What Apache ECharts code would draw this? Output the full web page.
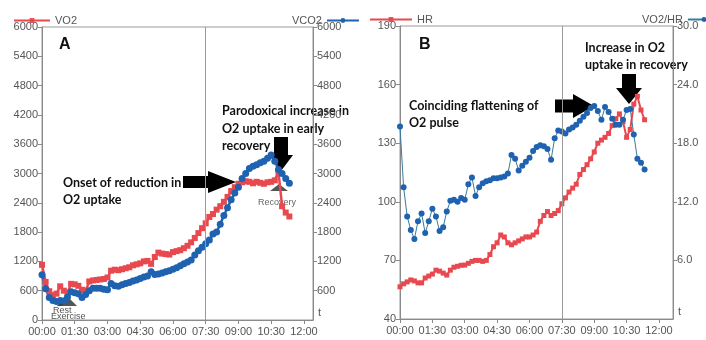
<!DOCTYPE html>
<html><head><meta charset="utf-8">
<script src="https://cdn.jsdelivr.net/npm/echarts@6/dist/echarts.min.js"></script>
<style>html,body{margin:0;padding:0;background:#fff}#c{width:706px;height:340px}</style>
</head><body><div id="c"></div>
<script>
// time in seconds
const times = [0,10,20,30,40,50,60,70,80,90,100,110,120,130,140,150,160,170,180,190,200,210,220,230,240,250,260,270,280,290,300,310,320,330,340,350,360,370,380,390,400,410,420,430,440,450,460,470,480,490,500,510,520,530,540,550,560,570,580,590,600,610,620,630,640,650,660,670,680];
const vo2 = [1130,780,590,510,540,690,600,560,740,730,
  700,620,600,790,810,820,830,840,870,1010,
  1030,1020,1040,1060,1080,1120,1140,1160,1200,1210,
  1150,1290,1380,1360,1350,1340,1390,1410,1430,1470,
  1520,1590,1680,1780,1880,1980,2110,2170,2260,2330,
  2420,2520,2640,2720,2790,2820,2840,2830,2800,2830,
  2810,2790,2820,2830,2860,3040,2330,2200,2120];
const vco2 = [925,640,460,400,380,400,390,470,580,560,
  540,460,520,600,650,650,650,630,620,750,
  700,690,720,750,770,800,820,850,880,900,
  990,930,940,960,990,1010,1040,1070,1110,1150,
  1190,1230,1330,1420,1490,1560,1640,1760,1800,1960,
  2140,2300,2460,2600,2720,2900,3000,3100,3150,3180,
  3220,3250,3310,3380,3250,3080,3000,2900,2800];
const hr = [56.5,58,59,60,59.5,58.5,58.5,61,62,63,
  65,64.5,63.5,62.5,65,66.5,67,67.5,67.6,68.5,
  69.5,70,70,69.5,70,73,77,79,83,82,
  79,78,79,80,81,82,82,83,84.5,90,
  93,95,93,94,95.5,99,102,105,107,109,
  114,116.5,119,122,125.5,130,131.6,133,135,139,
  142.5,145,141,133,137,150,154,147,142];
const vo2hr = [19.7,13.5,10.5,9.1,8.2,10.0,10.8,8.8,10.0,11.3,
  10.5,9.0,9.4,11.0,12.1,12.2,12.0,12.4,12.2,13.8,
  14.5,12.6,13.5,13.9,14.1,14.2,14.4,14.4,14.5,14.6,
  14.9,16.8,16.4,15.2,15.7,16.1,16.5,17.2,17.6,17.8,
  17.7,17.4,16.3,18.5,19.3,19.2,19.0,19.4,19.6,19.9,
  20.3,20.7,21.1,21.6,21.8,21.3,20.4,21.7,21.2,20.5,
  19.9,19.9,20.4,21.4,21.5,18.9,16.4,16.0,15.3];
const timeTicks = [0,90,180,270,360,450,540,630,720];
const timeTickLabels = ['00:00','01:30','03:00','04:30','06:00','07:30','09:00','10:30','12:00'];
const exerciseEnd = 450;

function pairs(ys){ return times.map((t,i)=>[t, ys[i]]); }
function fmtT(v){ const i = timeTicks.indexOf(v); return i>=0 ? timeTickLabels[i] : ''; }

const axisCol = '#8a8a8a', labCol = '#555';
const red = '#e8494f', blue = '#1f62b0';
const labelFont = {color:labCol, fontSize:11, fontFamily:'Liberation Sans, Arial'};

function xAx(gi, max){
  return {type:'value', gridIndex:gi, min:0, max:max, interval:90,
    name:'t', nameLocation:'end', nameGap:5,
    nameTextStyle:Object.assign({verticalAlign:'bottom', padding:[0,0,2,0]}, labelFont),
    axisLine:{show:true, lineStyle:{color:axisCol}},
    axisTick:{show:true, length:4, lineStyle:{color:axisCol}},
    axisLabel:Object.assign({formatter:fmtT, margin:6, showMaxLabel:false}, labelFont),
    splitLine:{show:false}};
}
function yAx(gi, pos, min, max, interval, dec){
  return {type:'value', gridIndex:gi, position:pos, min:min, max:max, interval:interval,
    axisLine:{show:true, lineStyle:{color:axisCol}},
    axisTick:{show:true, length:4, lineStyle:{color:axisCol}},
    axisLabel:Object.assign({margin:4, showMinLabel: pos === 'left',
      formatter: v => dec ? v.toFixed(1) : String(v)}, labelFont),
    splitLine:{show:false}};
}
const vline = {silent:true, symbol:'none', label:{show:false},
  lineStyle:{color:'#999', type:'solid', width:1}, data:[{xAxis:exerciseEnd}]};

function rightArrow(x0,x1,y,sh,hw,hh){
  return [[x0,y-sh/2],[x1-hw,y-sh/2],[x1-hw,y-hh/2],[x1,y],[x1-hw,y+hh/2],[x1-hw,y+sh/2],[x0,y+sh/2]];
}
function downArrow(x,y0,y1,sw,hh,hw){
  return [[x-sw/2,y0],[x+sw/2,y0],[x+sw/2,y1-hh],[x+hw/2,y1-hh],[x,y1],[x-hw/2,y1-hh],[x-sw/2,y1-hh]];
}
const annFont = 'bold 12.5px Lato';
function txt(s,x,y,font,fill){ return {type:'text', silent:true, style:{text:s, x:x, y:y, font:font||annFont, fill:fill||'#111', verticalAlign:'middle'}}; }
function poly(pts,fill){ return {type:'polygon', silent:true, shape:{points:pts}, style:{fill:fill||'#000'}}; }

const chart = echarts.init(document.getElementById('c'), null, {renderer:'canvas'});
chart.setOption({
  animation:false,
  backgroundColor:'#fff',
  grid:[
    {left:42, top:27, width:271, height:293, show:true, borderColor:'#999', borderWidth:1},
    {left:400, top:26, width:273, height:293, show:true, borderColor:'#999', borderWidth:1}
  ],
  legend:[
    {data:['VO2'], left:8, top:10, itemWidth:36, itemHeight:6, itemGap:4, textStyle:labelFont},
    {data:['VCO2'], left:287, top:10, align:'right', itemWidth:32, itemHeight:6, textStyle:labelFont},
    {data:['HR'], left:364, top:9, itemWidth:42, itemHeight:6, textStyle:labelFont},
    {data:['VO2/HR'], left:637, top:9, align:'right', itemWidth:32, itemHeight:6, textStyle:labelFont}
  ],
  xAxis:[xAx(0,745), xAx(1,759)],
  yAxis:[
    yAx(0,'left',0,6000,600,false),
    yAx(0,'right',0,6000,600,false),
    yAx(1,'left',40,190,30,false),
    yAx(1,'right',0,30,6,true)
  ],
  series:[
    {name:'VO2', type:'line', xAxisIndex:0, yAxisIndex:0, data:pairs(vo2), symbol:'rect', symbolSize:6,
      itemStyle:{color:red}, lineStyle:{color:red, width:2.5}, markLine:vline},
    {name:'VCO2', type:'line', xAxisIndex:0, yAxisIndex:1, data:pairs(vco2), symbol:'circle', symbolSize:7,
      itemStyle:{color:blue}, lineStyle:{color:blue, width:2.5}},
    {name:'HR', type:'line', xAxisIndex:1, yAxisIndex:2, data:pairs(hr), symbol:'rect', symbolSize:5,
      itemStyle:{color:red}, lineStyle:{color:red, width:2}, markLine:vline},
    {name:'VO2/HR', type:'line', xAxisIndex:1, yAxisIndex:3, data:pairs(vo2hr), symbol:'circle', symbolSize:6,
      itemStyle:{color:blue}, lineStyle:{color:'#3a7a9a', width:1}}
  ],
  graphic:[
    txt('A',59,45,'bold 16px Liberation Sans'),
    txt('B',419,45,'bold 16px Liberation Sans'),
    txt('Onset of reduction in',63,183),
    txt('O2 uptake',63,200),
    txt('Parodoxical increase in',222,111),
    txt('O2 uptake in early',222,129),
    txt('recovery',222,146),
    txt('Coinciding flattening of',409,106),
    txt('O2 pulse',409,123),
    txt('Increase in O2',585,48),
    txt('uptake in recovery',585,65),
    poly(rightArrow(183,236,182,12,28,22)),
    poly(downArrow(281,137,171,14,16,24)),
    poly(rightArrow(555,594,106,13,21,24)),
    poly(downArrow(629,74,104,14,16,26)),
    poly([[57,306],[65,296],[73,306]],'#444'),
    poly([[62,306],[69,298],[77,306]],'#555'),
    poly([[270,191],[279,184],[288,191]],'#555'),
    txt('Rest',53,311,'9px Liberation Sans','#555'),
    txt('Exercise',51,317,'9px Liberation Sans','#555'),
    txt('Recovery',258,203,'9px Liberation Sans','#666')
  ]
});
</script></body></html>
